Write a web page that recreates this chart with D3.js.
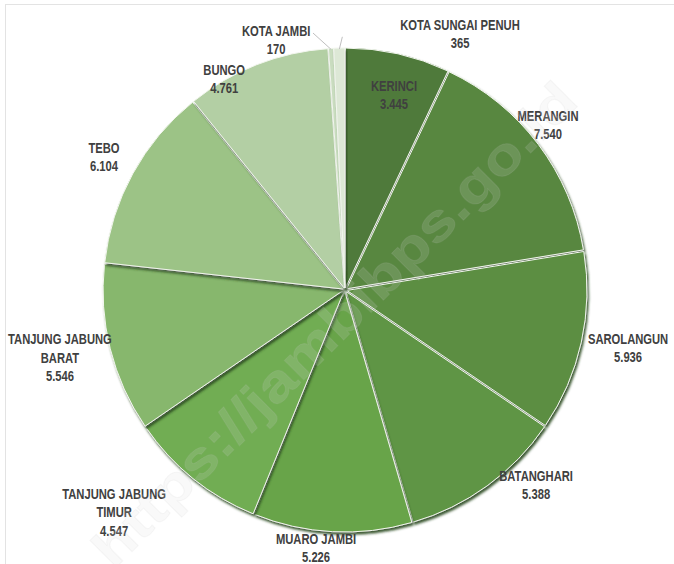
<!DOCTYPE html>
<html><head><meta charset="utf-8">
<script src="https://cdn.jsdelivr.net/npm/d3@7"></script>
<style>html,body{margin:0;padding:0;background:#fff;}</style>
</head><body><svg id="chart" width="674" height="564"></svg>
<script>
// ---- data ----
const categories = ["KERINCI","MERANGIN","SAROLANGUN","BATANGHARI","MUARO JAMBI","TANJUNG JABUNG TIMUR","TANJUNG JABUNG BARAT","TEBO","BUNGO","KOTA JAMBI","KOTA SUNGAI PENUH"];
const values = [3445, 7540, 5936, 5388, 5226, 4547, 5546, 6104, 4761, 170, 365];
const labelLines = [["KERINCI"],["MERANGIN"],["SAROLANGUN"],["BATANGHARI"],["MUARO JAMBI"],["TANJUNG JABUNG","TIMUR"],["TANJUNG JABUNG","BARAT"],["TEBO"],["BUNGO"],["KOTA JAMBI"],["KOTA SUNGAI PENUH"]];
const colors = ["#4f7a3b","#58873f","#5b8e42","#5f9545","#68a448","#71ad52","#87b76d","#9cc386","#b3cfa4","#c9dcbf","#dde8d6"];

// ---- layout (label placement, polar relative to pie centre) ----
const labelAngleDeg = [14.1, 50.9, 101.6, 135.6, 186.4, 226.1, 256.6, 298.9, 330.2, 344.6, 24.2];
const labelRadiusK  = [0.838, 1.09, 1.204, 1.138, 1.082, 1.335, 1.221, 1.147, 1.013, 1.08, 1.169];
const leaderIdx = [9, 10];
const leaderEnd = {9: [352.9, 1.079], 10: [359.4, 1.055]};

const W = 674, H = 564, cx = 345, cy = 290, R = 240;
const fmt = d3.formatLocale({decimal: ",", thousands: ".", grouping: [3], currency: ["", ""]}).format(",d");

const svg = d3.select("#chart");
// frame
svg.append("rect").attr("x", 5.5).attr("y", 4.5).attr("width", W + 10).attr("height", H + 10)
  .attr("fill", "none").attr("stroke", "#e3e3e3").attr("stroke-width", 1);

const defs = svg.append("defs");
const f = defs.append("filter").attr("id", "sh").attr("x", "-20%").attr("y", "-20%").attr("width", "140%").attr("height", "140%");
f.append("feDropShadow").attr("dx", 1.5).attr("dy", 2.5).attr("stdDeviation", 1.2)
  .attr("flood-color", "#2c4a1e").attr("flood-opacity", 0.9);

const pie = d3.pie().value(d => d).sort(null);
const arcs = pie(values);
const arc = d3.arc().innerRadius(0).outerRadius(R);

const g = svg.append("g").attr("transform", `translate(${cx},${cy})`);
const explode = 2;
g.selectAll("path.slice").data(arcs).join("path")
  .attr("class", "slice")
  .attr("d", arc)
  .attr("transform", d => {
    const a = (d.startAngle + d.endAngle) / 2;
    return `translate(${explode * Math.sin(a)},${-explode * Math.cos(a)})`;
  })
  .attr("fill", (d, i) => colors[i])
  .attr("stroke", "#f2f6ee").attr("stroke-width", 1)
  .attr("filter", "url(#sh)");

// leader lines
leaderIdx.forEach(i => {
  const d = arcs[i];
  const a = (d.startAngle + d.endAngle) / 2;
  const e = leaderEnd[i];
  const ea = e[0] * Math.PI / 180;
  g.append("line")
    .attr("x1", (R + 1) * Math.sin(a)).attr("y1", -(R + 1) * Math.cos(a))
    .attr("x2", e[1] * R * Math.sin(ea)).attr("y2", -e[1] * R * Math.cos(ea))
    .attr("stroke", "#bfbfbf").attr("stroke-width", 1);
});

// labels (condensed to mimic the narrow original face)
const lh = 18.4;
arcs.forEach((d, i) => {
  const a = labelAngleDeg[i] * Math.PI / 180;
  const x = labelRadiusK[i] * R * Math.sin(a);
  const y = -labelRadiusK[i] * R * Math.cos(a);
  const lines = labelLines[i].concat([fmt(values[i])]);
  const y0 = -(lines.length - 1) * lh / 2;
  const t = g.append("text").attr("text-anchor", "middle")
    .attr("transform", `translate(${x},${y}) scale(0.79,1)`)
    .attr("font-family", "'Liberation Sans', Arial, sans-serif").attr("font-weight", "bold")
    .attr("font-size", 14.2).attr("fill", "#404040");
  lines.forEach((s, j) => {
    t.append("tspan").attr("x", 0).attr("y", y0 + j * lh).attr("dy", "0.35em").text(s);
  });
});

// watermark
svg.append("text")
  .attr("transform", "translate(334,324) rotate(-45)")
  .attr("text-anchor", "middle").attr("dy", "0.35em")
  .attr("font-family", "'Liberation Sans', Arial, sans-serif").attr("font-weight", "bold")
  .attr("font-size", 52)
  .attr("textLength", 660).attr("lengthAdjust", "spacingAndGlyphs")
  .attr("fill", "#dcdcdc").attr("fill-opacity", 0.16)
  .attr("stroke", "#c8c8c8").attr("stroke-opacity", 0.12).attr("stroke-width", 1)
  .text("https://jambibps.go.id");
</script></body></html>
